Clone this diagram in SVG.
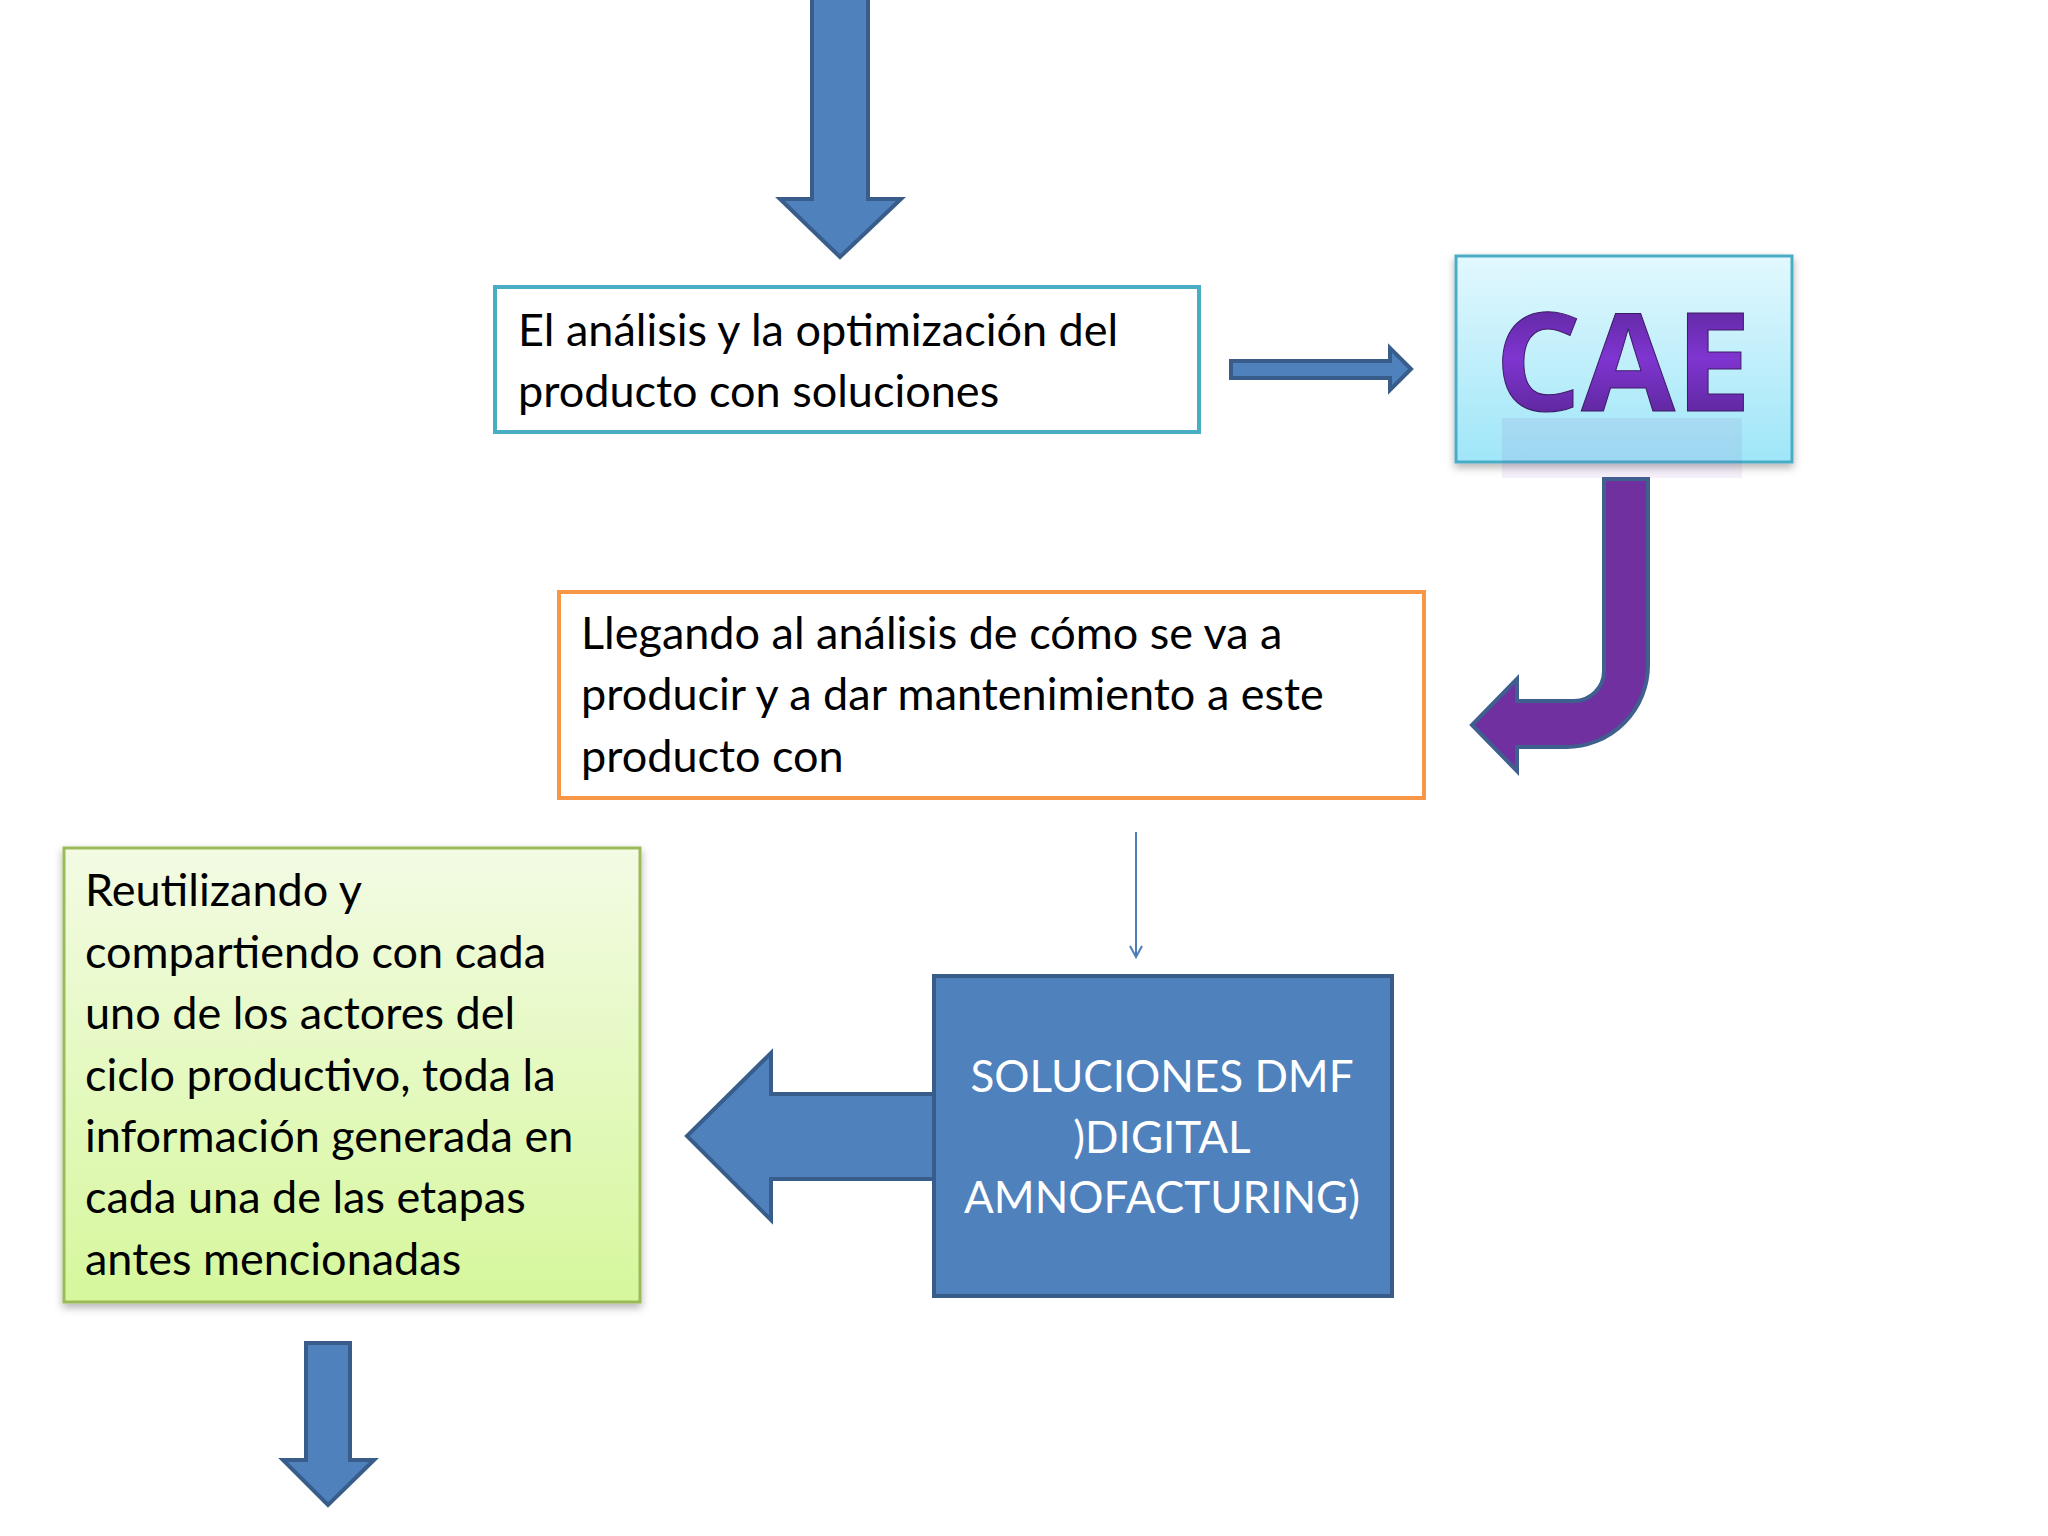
<svg xmlns="http://www.w3.org/2000/svg" width="2048" height="1536" viewBox="0 0 2048 1536">
<defs>
<style>
.t{font-family:Lato,"Liberation Sans",sans-serif;font-size:45px;fill:#000}
.w{font-family:Lato,"Liberation Sans",sans-serif;font-size:44px;fill:#fff}
.ba{fill:#4f81bd;stroke:#385d8a;stroke-width:4}
</style>
<linearGradient id="cy" x1="0" y1="0" x2="0" y2="1"><stop offset="0" stop-color="#e2f8fe"/><stop offset="1" stop-color="#9fe6f8"/></linearGradient>
<linearGradient id="gr" x1="0" y1="0" x2="0" y2="1"><stop offset="0" stop-color="#f3fbe4"/><stop offset="1" stop-color="#d6f79c"/></linearGradient>
<linearGradient id="pu" x1="0" y1="0" x2="0" y2="1"><stop offset="0" stop-color="#4b1f80"/><stop offset="0.5" stop-color="#7f35d0"/><stop offset="1" stop-color="#4b1f80"/></linearGradient>
<filter id="sh" x="-5%" y="-5%" width="110%" height="115%"><feDropShadow dx="0" dy="4" stdDeviation="4" flood-opacity="0.3"/></filter>
<marker id="oa" markerWidth="14" markerHeight="14" refX="12" refY="7" orient="auto" markerUnits="userSpaceOnUse"><path d="M1,1 L12,7 L1,13" fill="none" stroke="#4a7ebb" stroke-width="2"/></marker>
</defs>
<rect width="2048" height="1536" fill="#fff"/>
<g id="connectors">
<path class="ba" d="M812,-4 H868 V199 H901 L840,257 L780,199 H812 Z"/>
<path class="ba" d="M1231,361 H1390 V348 L1411,369 L1390,390 V378 H1231 Z"/>
<path d="M1604,479 H1648 V665 A82,82 0 0 1 1566,747 H1517 V771 L1472,725 L1517,679 V701 H1574 A30,30 0 0 0 1604,671 Z" fill="#7030a0" stroke="#3f5f8f" stroke-width="4"/>
<line x1="1136" y1="832" x2="1136" y2="957" stroke="#4a7ebb" stroke-width="2" marker-end="url(#oa)"/>
<path class="ba" d="M934,1094 H771 V1053 L687,1136 L771,1220 V1179 H934 Z"/>
<path class="ba" d="M306,1343 H350 V1460 H374 L328,1505 L283,1460 H306 Z"/>
</g>
<g id="box1">
<rect x="495" y="287" width="704" height="145" fill="#fff" stroke="#4bacc6" stroke-width="4"/>
<text class="t" x="518" y="346">El análisis y la optimización del</text>
<text class="t" x="518" y="407">producto con soluciones</text>
</g>
<g id="cae">
<rect x="1456" y="256" width="336" height="206" fill="url(#cy)" stroke="#4bacc6" stroke-width="3" filter="url(#sh)"/>
<rect x="1502" y="418" width="240" height="60" fill="#7030a0" opacity="0.08"/>
<text x="1623" y="411" text-anchor="middle" font-family="'Open Sans','DejaVu Sans',sans-serif" font-weight="bold" font-size="136" fill="url(#pu)" stroke="#3d1a66" stroke-width="1">CAE</text>
</g>
<g id="box2">
<rect x="559" y="592" width="865" height="206" fill="#fff" stroke="#f79646" stroke-width="4"/>
<text class="t" x="581" y="649">Llegando al análisis de cómo se va a</text>
<text class="t" x="581" y="710">producir y a dar mantenimiento a este</text>
<text class="t" x="581" y="772">producto con</text>
</g>
<g id="dmf">
<rect x="934" y="976" width="458" height="320" fill="#4f81bd" stroke="#385d8a" stroke-width="4"/>
<text class="w" x="1162" y="1092" text-anchor="middle">SOLUCIONES DMF</text>
<text class="w" x="1162" y="1153" text-anchor="middle">)DIGITAL</text>
<text class="w" x="1162" y="1213" text-anchor="middle">AMNOFACTURING)</text>
</g>
<g id="green">
<rect x="64" y="848" width="576" height="454" fill="url(#gr)" stroke="#9bbb59" stroke-width="3" filter="url(#sh)"/>
<text class="t" x="85" y="906">Reutilizando y</text>
<text class="t" x="85" y="968">compartiendo con cada</text>
<text class="t" x="85" y="1029">uno de los actores del</text>
<text class="t" x="85" y="1091">ciclo productivo, toda la</text>
<text class="t" x="85" y="1152">información generada en</text>
<text class="t" x="85" y="1213">cada una de las etapas</text>
<text class="t" x="85" y="1275">antes mencionadas</text>
</g>
</svg>
